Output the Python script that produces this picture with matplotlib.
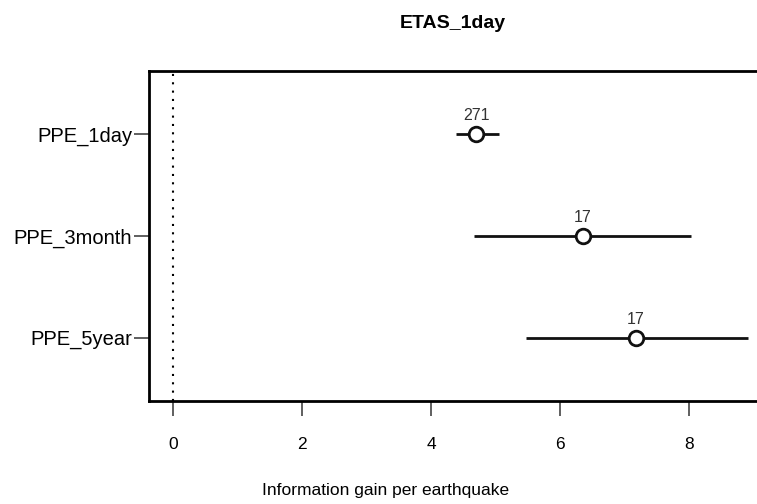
import matplotlib

matplotlib.use('Agg')
import matplotlib.pyplot as plt

plt.rcParams['font.family'] = ['Liberation Sans', 'DejaVu Sans']

models = ['PPE_1day', 'PPE_3month', 'PPE_5year']
gain = [4.70, 6.35, 7.17]
lower = [4.38, 4.67, 5.47]
upper = [5.05, 8.03, 8.91]
counts = ['271', '17', '17']
xticks = [0, 2, 4, 6, 8]

W, H = 757, 504
fig = plt.figure(figsize=(W / 100, H / 100), dpi=100)
ax = fig.add_axes([149 / W, 1 - 401 / H, (W - 149) / W + 0.002, 330 / H])

rows = list(range(1, len(models) + 1))
ax.axvline(0, color='black', linestyle=(0, (1, 3)), linewidth=1.5, zorder=1)
for y, g, lo, hi, n in zip(rows, gain, lower, upper, counts):
    ax.plot([lo, hi], [y, y], color='#111111', linewidth=2, solid_capstyle='butt', zorder=2)
    ax.plot([g], [y], marker='o', markersize=10.5, markerfacecolor='white',
            markeredgecolor='#111111', markeredgewidth=2, zorder=3)
    ax.text(g, y - 0.11, n, ha='center', va='bottom', fontsize=11.5, color='#333333')

ax.set_xlim(-0.37, 9.07)
ax.set_ylim(3.62, 0.38)
ax.set_yticks(rows)
ax.set_yticklabels(models, fontsize=14.5)
ax.set_xticks(xticks)
ax.set_xticklabels([str(t) for t in xticks], fontsize=12.5)
ax.tick_params(axis='both', length=11, width=1.2, color='#444444')
ax.tick_params(axis='x', pad=15)
ax.tick_params(axis='y', pad=1)
for side in ['left', 'top', 'bottom']:
    ax.spines[side].set_linewidth(2)
ax.spines['right'].set_visible(False)

ax.set_xlabel('Information gain per earthquake', fontsize=12.5)
ax.xaxis.set_label_coords((385 - 149) / (W - 149), -0.25)
fig.text(453 / W, 1 - 23 / H, 'ETAS_1day', ha='center', va='center',
         fontsize=14, fontweight='bold')

fig.savefig('out.png', facecolor='white')
